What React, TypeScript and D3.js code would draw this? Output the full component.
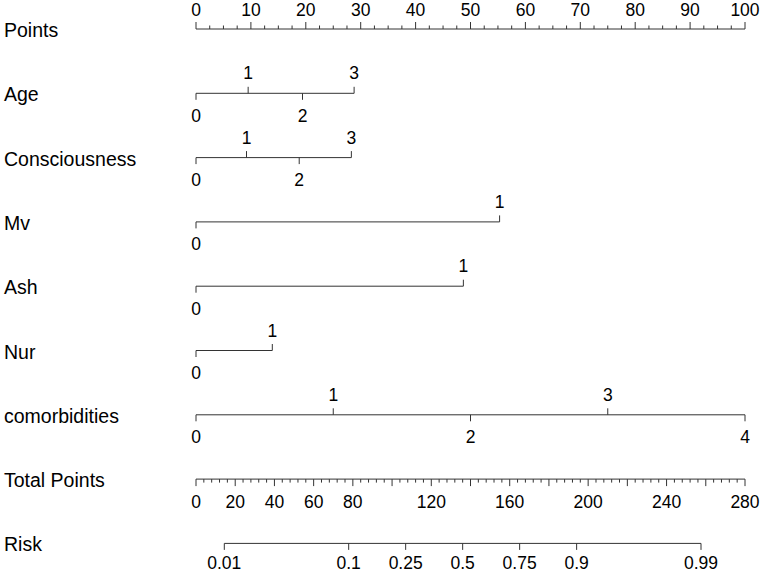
import * as d3 from "d3";

// ---------- data ----------
const rowNames = ["Points", "Age", "Consciousness", "Mv", "Ash", "Nur", "comorbidities", "Total Points", "Risk"];

const pointsMajor = [0, 10, 20, 30, 40, 50, 60, 70, 80, 90, 100];

const ageLevels = ["0", "1", "2", "3"];
const agePoints = [0, 9.5, 19.4, 28.8];

const consciousnessLevels = ["0", "1", "2", "3"];
const consciousnessPoints = [0, 9.2, 18.8, 28.3];

const mvLevels = ["0", "1"];
const mvPoints = [0, 55.3];

const ashLevels = ["0", "1"];
const ashPoints = [0, 48.7];

const nurLevels = ["0", "1"];
const nurPoints = [0, 13.9];

const comorbLevels = ["0", "1", "2", "3", "4"];
const comorbPoints = [0, 25, 50, 75, 100];

const totalMax = 280;
const totalLabels = [0, 20, 40, 60, 80, 120, 160, 200, 240, 280];

const riskTicks = [0.01, 0.1, 0.25, 0.5, 0.75, 0.9, 0.99];
const riskMid = 136; // total points where risk = 0.5
const riskSlope = 0.0378; // logit per total point

// ---------- layout ----------
const W = 762;
const H = 573;
const x0 = 196;
const x1 = 745;
const rowTop = 29;
const rowStep = 64.3;
const ink = "#333";
const fontFamily = "'Liberation Sans', Arial, sans-serif";
const labelSize = 19.5;
const tickSize = 17.5;

const xPts = d3.scaleLinear().domain([0, 100]).range([x0, x1]);
const xTot = d3.scaleLinear().domain([0, totalMax]).range([x0, x1]);
const rowY = (i: number) => rowTop + rowStep * i;

const variables = [
  { levels: ageLevels, pts: agePoints },
  { levels: consciousnessLevels, pts: consciousnessPoints },
  { levels: mvLevels, pts: mvPoints },
  { levels: ashLevels, pts: ashPoints },
  { levels: nurLevels, pts: nurPoints },
  { levels: comorbLevels, pts: comorbPoints },
];

const riskToTotal = (p: number) => riskMid + Math.log(p / (1 - p)) / riskSlope;

const App = () => {
  const pointsMinor = d3.range(0, 100.01, 2.5).filter((v) => v % 10 !== 0);
  const totalMajor = d3.range(0, totalMax + 0.01, 20);
  const totalMinor = d3.range(0, totalMax + 0.01, 4).filter((v) => v % 20 !== 0);
  const yP = rowY(0);
  const yT = rowY(7);
  const yR = rowY(8);
  const riskX = riskTicks.map((r) => xTot(riskToTotal(r)));

  return (
    <svg
      width={W}
      height={H}
      style={{ position: "absolute", left: 0, top: 0, background: "#fff" }}
      fontFamily={fontFamily}
    >
      {/* row labels */}
      {rowNames.map((n, i) => (
        <text key={n} x={4} y={rowY(i) + 8} fontSize={labelSize} fill="#000">
          {n}
        </text>
      ))}

      {/* Points axis */}
      <g stroke={ink} strokeWidth={1}>
        <line x1={xPts(0)} x2={xPts(100)} y1={yP} y2={yP} />
        {pointsMajor.map((v) => (
          <line key={"pm" + v} x1={xPts(v)} x2={xPts(v)} y1={yP} y2={yP - 7} />
        ))}
        {pointsMinor.map((v) => (
          <line key={"pn" + v} x1={xPts(v)} x2={xPts(v)} y1={yP} y2={yP - 3.5} />
        ))}
      </g>
      {pointsMajor.map((v) => (
        <text key={"pl" + v} x={xPts(v)} y={yP - 13} fontSize={tickSize} textAnchor="middle" fill="#000">
          {v}
        </text>
      ))}

      {/* variable rows */}
      {variables.map((vr, i) => {
        const y = rowY(i + 1);
        return (
          <g key={"var" + i}>
            <line x1={xPts(0)} x2={xPts(d3.max(vr.pts) as number)} y1={y} y2={y} stroke={ink} />
            {vr.pts.map((p, j) => {
              const up = j % 2 === 1;
              return (
                <g key={j}>
                  <line x1={xPts(p)} x2={xPts(p)} y1={y} y2={up ? y - 6.5 : y + 6.5} stroke={ink} />
                  <text
                    x={xPts(p)}
                    y={up ? y - 14 : y + 28.5}
                    fontSize={tickSize}
                    textAnchor="middle"
                    fill="#000"
                  >
                    {vr.levels[j]}
                  </text>
                </g>
              );
            })}
          </g>
        );
      })}

      {/* Total Points axis */}
      <g stroke={ink} strokeWidth={1}>
        <line x1={xTot(0)} x2={xTot(totalMax)} y1={yT} y2={yT} />
        {totalMajor.map((v) => (
          <line key={"tm" + v} x1={xTot(v)} x2={xTot(v)} y1={yT} y2={yT + 7} />
        ))}
        {totalMinor.map((v) => (
          <line key={"tn" + v} x1={xTot(v)} x2={xTot(v)} y1={yT} y2={yT + 3.5} />
        ))}
      </g>
      {totalLabels.map((v) => (
        <text key={"tl" + v} x={xTot(v)} y={yT + 28.5} fontSize={tickSize} textAnchor="middle" fill="#000">
          {v}
        </text>
      ))}

      {/* Risk axis */}
      <g stroke={ink} strokeWidth={1}>
        <line x1={riskX[0]} x2={riskX[riskX.length - 1]} y1={yR} y2={yR} />
        {riskX.map((x, i) => (
          <line key={"rt" + i} x1={x} x2={x} y1={yR} y2={yR + 6.5} />
        ))}
      </g>
      {riskTicks.map((r, i) => (
        <text key={"rl" + r} x={riskX[i]} y={yR + 26} fontSize={tickSize} textAnchor="middle" fill="#000">
          {r}
        </text>
      ))}
    </svg>
  );
};

export default App;
